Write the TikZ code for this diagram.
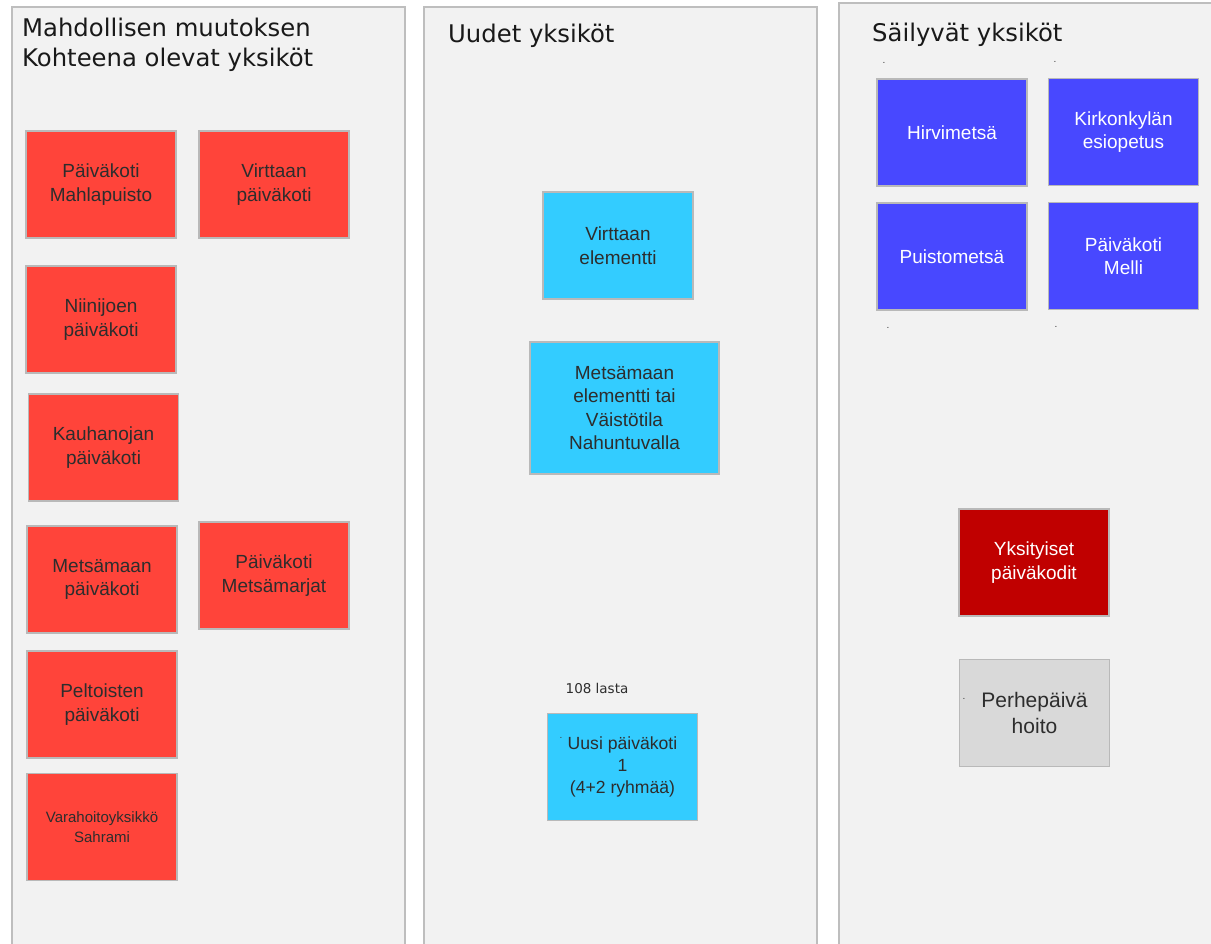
\documentclass[tikz,border=0pt]{standalone}
\usepackage{fontspec}
\setmainfont{Liberation Sans}
\newfontfamily\headfont{DejaVu Sans}
\usetikzlibrary{positioning}
\definecolor{panelfill}{RGB}{242,242,242}
\definecolor{panelline}{RGB}{190,190,190}
\definecolor{unitline}{RGB}{185,185,185}
\definecolor{unittext}{RGB}{45,45,45}
\definecolor{changered}{RGB}{255,68,58}
\definecolor{newcyan}{RGB}{51,204,255}
\definecolor{keepblue}{RGB}{72,72,255}
\definecolor{privred}{RGB}{192,0,0}
\definecolor{familygray}{RGB}{217,217,217}

\begin{document}
\begin{tikzpicture}
  [
    x=1pt, y=-1pt,
    panel/.style={
       draw=panelline,
       line width=1.5pt,
       fill=panelfill
    },
    heading/.style={
       font=\headfont\fontsize{24.3}{30}\selectfont,
       text=black!90,
       align=left,
       inner sep=0pt,
       anchor=base west
    },
    unit/.style={
       draw=unitline,
       line width=1.5pt,
       minimum width=150pt,
       minimum height=107pt,
       inner sep=2pt,
       align=center,
       text=unittext,
       font=\fontsize{19}{23.5}\selectfont
    },
    change/.style={unit, fill=changered},
    newunit/.style={unit, fill=newcyan},
    keep/.style={unit, fill=keepblue, text=white},
    speck/.style={font=\fontsize{10}{10}\selectfont, text=black!75, inner sep=0pt}
  ]
  \useasboundingbox (0,0) rectangle (1211,944);

  % columns
  \draw [panel] (12,7) rectangle (405,960);
  \draw [panel] (424,7) rectangle (817,960);
  \draw [panel] (839,3) rectangle (1230,960);

  \node (hChange) at (22,67)  [heading] {Mahdollisen muutoksen\\Kohteena olevat yksiköt};
  \node (hNew)    at (448,43) [heading] {Uudet yksiköt};
  \node (hKeep)   at (872,42) [heading] {Säilyvät yksiköt};

  % units under possible change
  \node (mahla)   at (101,184.5) [change] {Päiväkoti\\Mahlapuisto};
  \node (virttaa) at (274,184.5) [change] {Virttaan\\päiväkoti};
  \node (niini)   at (101,319.5) [change] {Niinijoen\\päiväkoti};
  \node (kauha)   at (103.5,447.5) [change] {Kauhanojan\\päiväkoti};
  \node (metsa)   at (102,579.5) [change] {Metsämaan\\päiväkoti};
  \node (marjat)  at (274,575.5) [change] {Päiväkoti\\Metsämarjat};
  \node (pelto)   at (102,704.5) [change] {Peltoisten\\päiväkoti};
  \node (sahrami) at (102,827)   [change, font=\fontsize{15}{20}\selectfont] {Varahoitoyksikkö\\Sahrami};

  % new units
  \node (velem)   at (618,245.5) [newunit] {Virttaan\\elementti};
  \node (melem)   at (624.5,408) [newunit, minimum width=189pt, minimum height=132pt]
                  {Metsämaan\\elementti tai\\Väistötila\\Nahuntuvalla};
  \node (lasta)   at (597,688)   [font=\headfont\fontsize{13.5}{13.5}\selectfont, text=unittext] {108 lasta};
  \node (uusi)    at (622.5,767) [newunit, font=\fontsize{17.6}{22}\selectfont]
                  {Uusi päiväkoti\\1\\(4+2 ryhmää)};
  \node (dotUusi) at (561,738)   [speck] {.};

  % units kept
  \node (hirvi)   at (952,132.5)    [keep] {Hirvimetsä};
  \node (kirkko)  at (1123.5,132)   [keep] {Kirkonkylän\\esiopetus};
  \node (puisto)  at (952,256.5)    [keep] {Puistometsä};
  \node (melli)   at (1123.5,256)   [keep] {Päiväkoti\\Melli};
  \node (dotA)    at (884,63)  [speck] {.};
  \node (dotB)    at (1055,62) [speck] {.};
  \node (dotC)    at (888,328) [speck] {.};
  \node (dotD)    at (1056,327) [speck] {.};

  \node (yksit)   at (1034,562.5) [unit, fill=privred, text=white] {Yksityiset\\päiväkodit};
  \node (perhe)   at (1034.5,713) [unit, fill=familygray, font=\fontsize{21}{26}\selectfont]
                  {Perhepäivä\\hoito};
  \node (dotPerhe) at (964,699) [speck] {.};
\end{tikzpicture}
\end{document}
